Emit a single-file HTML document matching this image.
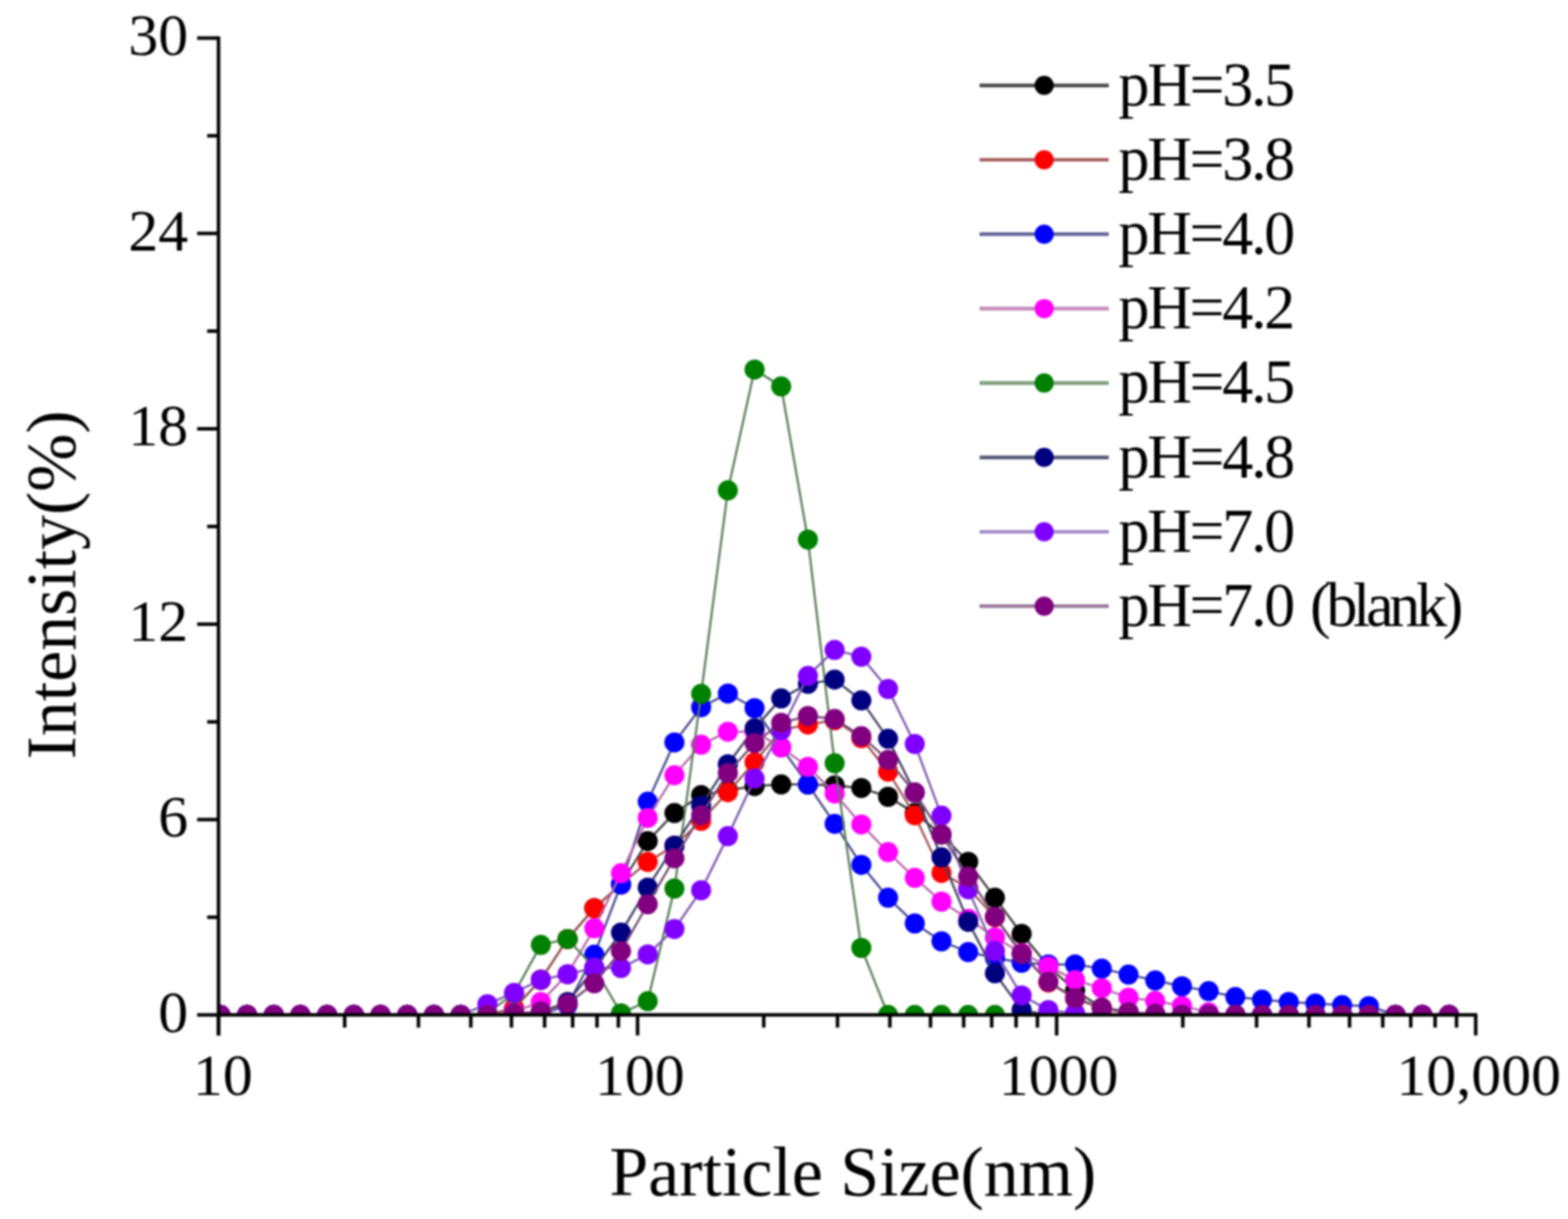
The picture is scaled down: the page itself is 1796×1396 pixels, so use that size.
<!DOCTYPE html><html><head><meta charset="utf-8"><style>html,body{margin:0;padding:0;background:#fff;}svg{display:block;filter:blur(0.9px);}text{font-family:"Liberation Serif",serif;fill:#000;}</style></head><body>
<svg width="1796" height="1396" viewBox="0 0 1796 1396">
<rect width="1796" height="1396" fill="#fff"/>
<defs><clipPath id="pc"><rect x="250.3" y="30" width="1440.0" height="1132.3"/></clipPath></defs>
<g clip-path="url(#pc)">
<path d="M252.4,1162.3 L283.0,1162.3 L313.6,1162.3 L344.1,1162.3 L374.7,1162.3 L405.3,1162.3 L435.9,1162.3 L466.5,1162.3 L497.1,1162.3 L527.7,1162.3 L558.3,1162.3 L588.9,1154.8 L619.5,1122.0 L650.1,1075.4 L680.7,1040.0 L711.3,1012.8 L741.9,963.2 L772.5,931.1 L803.1,910.6 L833.7,905.0 L864.3,900.2 L894.8,898.3 L925.4,898.3 L956.0,899.4 L986.6,902.4 L1017.2,912.5 L1047.8,931.1 L1078.4,955.7 L1109.0,987.0 L1139.6,1028.1 L1170.2,1069.4 L1200.8,1106.4 L1231.4,1134.3 L1262.0,1154.1 L1292.6,1158.6 L1323.2,1162.3 L1353.8,1162.3 L1384.4,1162.3 L1415.0,1162.3 L1445.5,1162.3 L1476.1,1162.3 L1506.7,1162.3 L1537.3,1162.3 L1567.9,1162.3 L1598.5,1162.3 L1629.1,1162.3 L1659.7,1162.3" fill="none" stroke="#404040" stroke-width="2.5"/>
<circle cx="252.4" cy="1162.3" r="11.5" fill="#000000"/>
<circle cx="283.0" cy="1162.3" r="11.5" fill="#000000"/>
<circle cx="313.6" cy="1162.3" r="11.5" fill="#000000"/>
<circle cx="344.1" cy="1162.3" r="11.5" fill="#000000"/>
<circle cx="374.7" cy="1162.3" r="11.5" fill="#000000"/>
<circle cx="405.3" cy="1162.3" r="11.5" fill="#000000"/>
<circle cx="435.9" cy="1162.3" r="11.5" fill="#000000"/>
<circle cx="466.5" cy="1162.3" r="11.5" fill="#000000"/>
<circle cx="497.1" cy="1162.3" r="11.5" fill="#000000"/>
<circle cx="527.7" cy="1162.3" r="11.5" fill="#000000"/>
<circle cx="558.3" cy="1162.3" r="11.5" fill="#000000"/>
<circle cx="588.9" cy="1154.8" r="11.5" fill="#000000"/>
<circle cx="619.5" cy="1122.0" r="11.5" fill="#000000"/>
<circle cx="650.1" cy="1075.4" r="11.5" fill="#000000"/>
<circle cx="680.7" cy="1040.0" r="11.5" fill="#000000"/>
<circle cx="711.3" cy="1012.8" r="11.5" fill="#000000"/>
<circle cx="741.9" cy="963.2" r="11.5" fill="#000000"/>
<circle cx="772.5" cy="931.1" r="11.5" fill="#000000"/>
<circle cx="803.1" cy="910.6" r="11.5" fill="#000000"/>
<circle cx="833.7" cy="905.0" r="11.5" fill="#000000"/>
<circle cx="864.3" cy="900.2" r="11.5" fill="#000000"/>
<circle cx="894.8" cy="898.3" r="11.5" fill="#000000"/>
<circle cx="925.4" cy="898.3" r="11.5" fill="#000000"/>
<circle cx="956.0" cy="899.4" r="11.5" fill="#000000"/>
<circle cx="986.6" cy="902.4" r="11.5" fill="#000000"/>
<circle cx="1017.2" cy="912.5" r="11.5" fill="#000000"/>
<circle cx="1047.8" cy="931.1" r="11.5" fill="#000000"/>
<circle cx="1078.4" cy="955.7" r="11.5" fill="#000000"/>
<circle cx="1109.0" cy="987.0" r="11.5" fill="#000000"/>
<circle cx="1139.6" cy="1028.1" r="11.5" fill="#000000"/>
<circle cx="1170.2" cy="1069.4" r="11.5" fill="#000000"/>
<circle cx="1200.8" cy="1106.4" r="11.5" fill="#000000"/>
<circle cx="1231.4" cy="1134.3" r="11.5" fill="#000000"/>
<circle cx="1262.0" cy="1154.1" r="11.5" fill="#000000"/>
<circle cx="1292.6" cy="1158.6" r="11.5" fill="#000000"/>
<circle cx="1323.2" cy="1162.3" r="11.5" fill="#000000"/>
<circle cx="1353.8" cy="1162.3" r="11.5" fill="#000000"/>
<circle cx="1384.4" cy="1162.3" r="11.5" fill="#000000"/>
<circle cx="1415.0" cy="1162.3" r="11.5" fill="#000000"/>
<circle cx="1445.5" cy="1162.3" r="11.5" fill="#000000"/>
<circle cx="1476.1" cy="1162.3" r="11.5" fill="#000000"/>
<circle cx="1506.7" cy="1162.3" r="11.5" fill="#000000"/>
<circle cx="1537.3" cy="1162.3" r="11.5" fill="#000000"/>
<circle cx="1567.9" cy="1162.3" r="11.5" fill="#000000"/>
<circle cx="1598.5" cy="1162.3" r="11.5" fill="#000000"/>
<circle cx="1629.1" cy="1162.3" r="11.5" fill="#000000"/>
<circle cx="1659.7" cy="1162.3" r="11.5" fill="#000000"/>
<path d="M252.4,1162.3 L283.0,1162.3 L313.6,1162.3 L344.1,1162.3 L374.7,1162.3 L405.3,1162.3 L435.9,1162.3 L466.5,1162.3 L497.1,1162.3 L527.7,1162.3 L558.3,1162.3 L588.9,1154.8 L619.5,1122.0 L650.1,1075.4 L680.7,1040.0 L711.3,1012.8 L741.9,987.0 L772.5,968.4 L803.1,940.1 L833.7,907.2 L864.3,872.9 L894.8,836.0 L925.4,829.7 L956.0,824.8 L986.6,845.3 L1017.2,883.7 L1047.8,933.7 L1078.4,999.7 L1109.0,1016.9 L1139.6,1050.4 L1170.2,1091.4 L1200.8,1125.0 L1231.4,1143.7 L1262.0,1154.8 L1292.6,1160.4 L1323.2,1162.3 L1353.8,1162.3 L1384.4,1162.3 L1415.0,1162.3 L1445.5,1162.3 L1476.1,1162.3 L1506.7,1162.3 L1537.3,1162.3 L1567.9,1162.3 L1598.5,1162.3 L1629.1,1162.3 L1659.7,1162.3" fill="none" stroke="#a05555" stroke-width="2.5"/>
<circle cx="252.4" cy="1162.3" r="11.5" fill="#ff0000"/>
<circle cx="283.0" cy="1162.3" r="11.5" fill="#ff0000"/>
<circle cx="313.6" cy="1162.3" r="11.5" fill="#ff0000"/>
<circle cx="344.1" cy="1162.3" r="11.5" fill="#ff0000"/>
<circle cx="374.7" cy="1162.3" r="11.5" fill="#ff0000"/>
<circle cx="405.3" cy="1162.3" r="11.5" fill="#ff0000"/>
<circle cx="435.9" cy="1162.3" r="11.5" fill="#ff0000"/>
<circle cx="466.5" cy="1162.3" r="11.5" fill="#ff0000"/>
<circle cx="497.1" cy="1162.3" r="11.5" fill="#ff0000"/>
<circle cx="527.7" cy="1162.3" r="11.5" fill="#ff0000"/>
<circle cx="558.3" cy="1162.3" r="11.5" fill="#ff0000"/>
<circle cx="588.9" cy="1154.8" r="11.5" fill="#ff0000"/>
<circle cx="619.5" cy="1122.0" r="11.5" fill="#ff0000"/>
<circle cx="650.1" cy="1075.4" r="11.5" fill="#ff0000"/>
<circle cx="680.7" cy="1040.0" r="11.5" fill="#ff0000"/>
<circle cx="711.3" cy="1012.8" r="11.5" fill="#ff0000"/>
<circle cx="741.9" cy="987.0" r="11.5" fill="#ff0000"/>
<circle cx="772.5" cy="968.4" r="11.5" fill="#ff0000"/>
<circle cx="803.1" cy="940.1" r="11.5" fill="#ff0000"/>
<circle cx="833.7" cy="907.2" r="11.5" fill="#ff0000"/>
<circle cx="864.3" cy="872.9" r="11.5" fill="#ff0000"/>
<circle cx="894.8" cy="836.0" r="11.5" fill="#ff0000"/>
<circle cx="925.4" cy="829.7" r="11.5" fill="#ff0000"/>
<circle cx="956.0" cy="824.8" r="11.5" fill="#ff0000"/>
<circle cx="986.6" cy="845.3" r="11.5" fill="#ff0000"/>
<circle cx="1017.2" cy="883.7" r="11.5" fill="#ff0000"/>
<circle cx="1047.8" cy="933.7" r="11.5" fill="#ff0000"/>
<circle cx="1078.4" cy="999.7" r="11.5" fill="#ff0000"/>
<circle cx="1109.0" cy="1016.9" r="11.5" fill="#ff0000"/>
<circle cx="1139.6" cy="1050.4" r="11.5" fill="#ff0000"/>
<circle cx="1170.2" cy="1091.4" r="11.5" fill="#ff0000"/>
<circle cx="1200.8" cy="1125.0" r="11.5" fill="#ff0000"/>
<circle cx="1231.4" cy="1143.7" r="11.5" fill="#ff0000"/>
<circle cx="1262.0" cy="1154.8" r="11.5" fill="#ff0000"/>
<circle cx="1292.6" cy="1160.4" r="11.5" fill="#ff0000"/>
<circle cx="1323.2" cy="1162.3" r="11.5" fill="#ff0000"/>
<circle cx="1353.8" cy="1162.3" r="11.5" fill="#ff0000"/>
<circle cx="1384.4" cy="1162.3" r="11.5" fill="#ff0000"/>
<circle cx="1415.0" cy="1162.3" r="11.5" fill="#ff0000"/>
<circle cx="1445.5" cy="1162.3" r="11.5" fill="#ff0000"/>
<circle cx="1476.1" cy="1162.3" r="11.5" fill="#ff0000"/>
<circle cx="1506.7" cy="1162.3" r="11.5" fill="#ff0000"/>
<circle cx="1537.3" cy="1162.3" r="11.5" fill="#ff0000"/>
<circle cx="1567.9" cy="1162.3" r="11.5" fill="#ff0000"/>
<circle cx="1598.5" cy="1162.3" r="11.5" fill="#ff0000"/>
<circle cx="1629.1" cy="1162.3" r="11.5" fill="#ff0000"/>
<circle cx="1659.7" cy="1162.3" r="11.5" fill="#ff0000"/>
<path d="M252.4,1162.3 L283.0,1162.3 L313.6,1162.3 L344.1,1162.3 L374.7,1162.3 L405.3,1162.3 L435.9,1162.3 L466.5,1162.3 L497.1,1162.3 L527.7,1162.3 L558.3,1162.3 L588.9,1162.3 L619.5,1162.3 L650.1,1151.1 L680.7,1093.3 L711.3,1012.8 L741.9,918.1 L772.5,850.2 L803.1,809.9 L833.7,794.2 L864.3,811.0 L894.8,855.8 L925.4,898.3 L956.0,943.4 L986.6,990.4 L1017.2,1028.1 L1047.8,1057.5 L1078.4,1078.0 L1109.0,1090.3 L1139.6,1097.0 L1170.2,1102.6 L1200.8,1104.5 L1231.4,1104.5 L1262.0,1109.3 L1292.6,1116.1 L1323.2,1122.8 L1353.8,1129.5 L1384.4,1135.1 L1415.0,1141.8 L1445.5,1144.8 L1476.1,1147.4 L1506.7,1149.2 L1537.3,1151.1 L1567.9,1152.2 L1598.5,1162.3 L1629.1,1162.3 L1659.7,1162.3" fill="none" stroke="#4a4a90" stroke-width="2.5"/>
<circle cx="252.4" cy="1162.3" r="11.5" fill="#0000ff"/>
<circle cx="283.0" cy="1162.3" r="11.5" fill="#0000ff"/>
<circle cx="313.6" cy="1162.3" r="11.5" fill="#0000ff"/>
<circle cx="344.1" cy="1162.3" r="11.5" fill="#0000ff"/>
<circle cx="374.7" cy="1162.3" r="11.5" fill="#0000ff"/>
<circle cx="405.3" cy="1162.3" r="11.5" fill="#0000ff"/>
<circle cx="435.9" cy="1162.3" r="11.5" fill="#0000ff"/>
<circle cx="466.5" cy="1162.3" r="11.5" fill="#0000ff"/>
<circle cx="497.1" cy="1162.3" r="11.5" fill="#0000ff"/>
<circle cx="527.7" cy="1162.3" r="11.5" fill="#0000ff"/>
<circle cx="558.3" cy="1162.3" r="11.5" fill="#0000ff"/>
<circle cx="588.9" cy="1162.3" r="11.5" fill="#0000ff"/>
<circle cx="619.5" cy="1162.3" r="11.5" fill="#0000ff"/>
<circle cx="650.1" cy="1151.1" r="11.5" fill="#0000ff"/>
<circle cx="680.7" cy="1093.3" r="11.5" fill="#0000ff"/>
<circle cx="711.3" cy="1012.8" r="11.5" fill="#0000ff"/>
<circle cx="741.9" cy="918.1" r="11.5" fill="#0000ff"/>
<circle cx="772.5" cy="850.2" r="11.5" fill="#0000ff"/>
<circle cx="803.1" cy="809.9" r="11.5" fill="#0000ff"/>
<circle cx="833.7" cy="794.2" r="11.5" fill="#0000ff"/>
<circle cx="864.3" cy="811.0" r="11.5" fill="#0000ff"/>
<circle cx="894.8" cy="855.8" r="11.5" fill="#0000ff"/>
<circle cx="925.4" cy="898.3" r="11.5" fill="#0000ff"/>
<circle cx="956.0" cy="943.4" r="11.5" fill="#0000ff"/>
<circle cx="986.6" cy="990.4" r="11.5" fill="#0000ff"/>
<circle cx="1017.2" cy="1028.1" r="11.5" fill="#0000ff"/>
<circle cx="1047.8" cy="1057.5" r="11.5" fill="#0000ff"/>
<circle cx="1078.4" cy="1078.0" r="11.5" fill="#0000ff"/>
<circle cx="1109.0" cy="1090.3" r="11.5" fill="#0000ff"/>
<circle cx="1139.6" cy="1097.0" r="11.5" fill="#0000ff"/>
<circle cx="1170.2" cy="1102.6" r="11.5" fill="#0000ff"/>
<circle cx="1200.8" cy="1104.5" r="11.5" fill="#0000ff"/>
<circle cx="1231.4" cy="1104.5" r="11.5" fill="#0000ff"/>
<circle cx="1262.0" cy="1109.3" r="11.5" fill="#0000ff"/>
<circle cx="1292.6" cy="1116.1" r="11.5" fill="#0000ff"/>
<circle cx="1323.2" cy="1122.8" r="11.5" fill="#0000ff"/>
<circle cx="1353.8" cy="1129.5" r="11.5" fill="#0000ff"/>
<circle cx="1384.4" cy="1135.1" r="11.5" fill="#0000ff"/>
<circle cx="1415.0" cy="1141.8" r="11.5" fill="#0000ff"/>
<circle cx="1445.5" cy="1144.8" r="11.5" fill="#0000ff"/>
<circle cx="1476.1" cy="1147.4" r="11.5" fill="#0000ff"/>
<circle cx="1506.7" cy="1149.2" r="11.5" fill="#0000ff"/>
<circle cx="1537.3" cy="1151.1" r="11.5" fill="#0000ff"/>
<circle cx="1567.9" cy="1152.2" r="11.5" fill="#0000ff"/>
<circle cx="1598.5" cy="1162.3" r="11.5" fill="#0000ff"/>
<circle cx="1629.1" cy="1162.3" r="11.5" fill="#0000ff"/>
<circle cx="1659.7" cy="1162.3" r="11.5" fill="#0000ff"/>
<path d="M252.4,1162.3 L283.0,1162.3 L313.6,1162.3 L344.1,1162.3 L374.7,1162.3 L405.3,1162.3 L435.9,1162.3 L466.5,1162.3 L497.1,1162.3 L527.7,1162.3 L558.3,1162.3 L588.9,1158.6 L619.5,1147.4 L650.1,1115.7 L680.7,1063.1 L711.3,1000.1 L741.9,936.7 L772.5,887.8 L803.1,852.8 L833.7,837.9 L864.3,837.9 L894.8,855.8 L925.4,878.2 L956.0,908.7 L986.6,944.2 L1017.2,975.8 L1047.8,1005.3 L1078.4,1032.5 L1109.0,1052.3 L1139.6,1073.5 L1170.2,1091.4 L1200.8,1106.7 L1231.4,1122.4 L1262.0,1131.7 L1292.6,1142.5 L1323.2,1146.3 L1353.8,1151.9 L1384.4,1159.3 L1415.0,1162.3 L1445.5,1162.3 L1476.1,1162.3 L1506.7,1162.3 L1537.3,1162.3 L1567.9,1162.3 L1598.5,1162.3 L1629.1,1162.3 L1659.7,1162.3" fill="none" stroke="#b868aa" stroke-width="2.5"/>
<circle cx="252.4" cy="1162.3" r="11.5" fill="#ff00ff"/>
<circle cx="283.0" cy="1162.3" r="11.5" fill="#ff00ff"/>
<circle cx="313.6" cy="1162.3" r="11.5" fill="#ff00ff"/>
<circle cx="344.1" cy="1162.3" r="11.5" fill="#ff00ff"/>
<circle cx="374.7" cy="1162.3" r="11.5" fill="#ff00ff"/>
<circle cx="405.3" cy="1162.3" r="11.5" fill="#ff00ff"/>
<circle cx="435.9" cy="1162.3" r="11.5" fill="#ff00ff"/>
<circle cx="466.5" cy="1162.3" r="11.5" fill="#ff00ff"/>
<circle cx="497.1" cy="1162.3" r="11.5" fill="#ff00ff"/>
<circle cx="527.7" cy="1162.3" r="11.5" fill="#ff00ff"/>
<circle cx="558.3" cy="1162.3" r="11.5" fill="#ff00ff"/>
<circle cx="588.9" cy="1158.6" r="11.5" fill="#ff00ff"/>
<circle cx="619.5" cy="1147.4" r="11.5" fill="#ff00ff"/>
<circle cx="650.1" cy="1115.7" r="11.5" fill="#ff00ff"/>
<circle cx="680.7" cy="1063.1" r="11.5" fill="#ff00ff"/>
<circle cx="711.3" cy="1000.1" r="11.5" fill="#ff00ff"/>
<circle cx="741.9" cy="936.7" r="11.5" fill="#ff00ff"/>
<circle cx="772.5" cy="887.8" r="11.5" fill="#ff00ff"/>
<circle cx="803.1" cy="852.8" r="11.5" fill="#ff00ff"/>
<circle cx="833.7" cy="837.9" r="11.5" fill="#ff00ff"/>
<circle cx="864.3" cy="837.9" r="11.5" fill="#ff00ff"/>
<circle cx="894.8" cy="855.8" r="11.5" fill="#ff00ff"/>
<circle cx="925.4" cy="878.2" r="11.5" fill="#ff00ff"/>
<circle cx="956.0" cy="908.7" r="11.5" fill="#ff00ff"/>
<circle cx="986.6" cy="944.2" r="11.5" fill="#ff00ff"/>
<circle cx="1017.2" cy="975.8" r="11.5" fill="#ff00ff"/>
<circle cx="1047.8" cy="1005.3" r="11.5" fill="#ff00ff"/>
<circle cx="1078.4" cy="1032.5" r="11.5" fill="#ff00ff"/>
<circle cx="1109.0" cy="1052.3" r="11.5" fill="#ff00ff"/>
<circle cx="1139.6" cy="1073.5" r="11.5" fill="#ff00ff"/>
<circle cx="1170.2" cy="1091.4" r="11.5" fill="#ff00ff"/>
<circle cx="1200.8" cy="1106.7" r="11.5" fill="#ff00ff"/>
<circle cx="1231.4" cy="1122.4" r="11.5" fill="#ff00ff"/>
<circle cx="1262.0" cy="1131.7" r="11.5" fill="#ff00ff"/>
<circle cx="1292.6" cy="1142.5" r="11.5" fill="#ff00ff"/>
<circle cx="1323.2" cy="1146.3" r="11.5" fill="#ff00ff"/>
<circle cx="1353.8" cy="1151.9" r="11.5" fill="#ff00ff"/>
<circle cx="1384.4" cy="1159.3" r="11.5" fill="#ff00ff"/>
<circle cx="1415.0" cy="1162.3" r="11.5" fill="#ff00ff"/>
<circle cx="1445.5" cy="1162.3" r="11.5" fill="#ff00ff"/>
<circle cx="1476.1" cy="1162.3" r="11.5" fill="#ff00ff"/>
<circle cx="1506.7" cy="1162.3" r="11.5" fill="#ff00ff"/>
<circle cx="1537.3" cy="1162.3" r="11.5" fill="#ff00ff"/>
<circle cx="1567.9" cy="1162.3" r="11.5" fill="#ff00ff"/>
<circle cx="1598.5" cy="1162.3" r="11.5" fill="#ff00ff"/>
<circle cx="1629.1" cy="1162.3" r="11.5" fill="#ff00ff"/>
<circle cx="1659.7" cy="1162.3" r="11.5" fill="#ff00ff"/>
<path d="M252.4,1162.3 L283.0,1162.3 L313.6,1162.3 L344.1,1162.3 L374.7,1162.3 L405.3,1162.3 L435.9,1162.3 L466.5,1162.3 L497.1,1162.3 L527.7,1162.3 L558.3,1160.4 L588.9,1137.7 L619.5,1082.1 L650.1,1075.4 L680.7,1108.2 L711.3,1160.4 L741.9,1146.6 L772.5,1017.6 L803.1,794.6 L833.7,561.6 L864.3,423.2 L894.8,442.6 L925.4,617.9 L956.0,874.0 L986.6,1085.5 L1017.2,1162.3 L1047.8,1162.3 L1078.4,1162.3 L1109.0,1162.3 L1139.6,1162.3 L1170.2,1162.3 L1200.8,1162.3 L1231.4,1162.3 L1262.0,1162.3 L1292.6,1162.3 L1323.2,1162.3 L1353.8,1162.3 L1384.4,1162.3 L1415.0,1162.3 L1445.5,1162.3 L1476.1,1162.3 L1506.7,1162.3 L1537.3,1162.3 L1567.9,1162.3 L1598.5,1162.3 L1629.1,1162.3 L1659.7,1162.3" fill="none" stroke="#5a7d5a" stroke-width="2.5"/>
<circle cx="252.4" cy="1162.3" r="11.5" fill="#008000"/>
<circle cx="283.0" cy="1162.3" r="11.5" fill="#008000"/>
<circle cx="313.6" cy="1162.3" r="11.5" fill="#008000"/>
<circle cx="344.1" cy="1162.3" r="11.5" fill="#008000"/>
<circle cx="374.7" cy="1162.3" r="11.5" fill="#008000"/>
<circle cx="405.3" cy="1162.3" r="11.5" fill="#008000"/>
<circle cx="435.9" cy="1162.3" r="11.5" fill="#008000"/>
<circle cx="466.5" cy="1162.3" r="11.5" fill="#008000"/>
<circle cx="497.1" cy="1162.3" r="11.5" fill="#008000"/>
<circle cx="527.7" cy="1162.3" r="11.5" fill="#008000"/>
<circle cx="558.3" cy="1160.4" r="11.5" fill="#008000"/>
<circle cx="588.9" cy="1137.7" r="11.5" fill="#008000"/>
<circle cx="619.5" cy="1082.1" r="11.5" fill="#008000"/>
<circle cx="650.1" cy="1075.4" r="11.5" fill="#008000"/>
<circle cx="680.7" cy="1108.2" r="11.5" fill="#008000"/>
<circle cx="711.3" cy="1160.4" r="11.5" fill="#008000"/>
<circle cx="741.9" cy="1146.6" r="11.5" fill="#008000"/>
<circle cx="772.5" cy="1017.6" r="11.5" fill="#008000"/>
<circle cx="803.1" cy="794.6" r="11.5" fill="#008000"/>
<circle cx="833.7" cy="561.6" r="11.5" fill="#008000"/>
<circle cx="864.3" cy="423.2" r="11.5" fill="#008000"/>
<circle cx="894.8" cy="442.6" r="11.5" fill="#008000"/>
<circle cx="925.4" cy="617.9" r="11.5" fill="#008000"/>
<circle cx="956.0" cy="874.0" r="11.5" fill="#008000"/>
<circle cx="986.6" cy="1085.5" r="11.5" fill="#008000"/>
<circle cx="1017.2" cy="1162.3" r="11.5" fill="#008000"/>
<circle cx="1047.8" cy="1162.3" r="11.5" fill="#008000"/>
<circle cx="1078.4" cy="1162.3" r="11.5" fill="#008000"/>
<circle cx="1109.0" cy="1162.3" r="11.5" fill="#008000"/>
<circle cx="1139.6" cy="1162.3" r="11.5" fill="#008000"/>
<circle cx="1170.2" cy="1162.3" r="11.5" fill="#008000"/>
<circle cx="1200.8" cy="1162.3" r="11.5" fill="#008000"/>
<circle cx="1231.4" cy="1162.3" r="11.5" fill="#008000"/>
<circle cx="1262.0" cy="1162.3" r="11.5" fill="#008000"/>
<circle cx="1292.6" cy="1162.3" r="11.5" fill="#008000"/>
<circle cx="1323.2" cy="1162.3" r="11.5" fill="#008000"/>
<circle cx="1353.8" cy="1162.3" r="11.5" fill="#008000"/>
<circle cx="1384.4" cy="1162.3" r="11.5" fill="#008000"/>
<circle cx="1415.0" cy="1162.3" r="11.5" fill="#008000"/>
<circle cx="1445.5" cy="1162.3" r="11.5" fill="#008000"/>
<circle cx="1476.1" cy="1162.3" r="11.5" fill="#008000"/>
<circle cx="1506.7" cy="1162.3" r="11.5" fill="#008000"/>
<circle cx="1537.3" cy="1162.3" r="11.5" fill="#008000"/>
<circle cx="1567.9" cy="1162.3" r="11.5" fill="#008000"/>
<circle cx="1598.5" cy="1162.3" r="11.5" fill="#008000"/>
<circle cx="1629.1" cy="1162.3" r="11.5" fill="#008000"/>
<circle cx="1659.7" cy="1162.3" r="11.5" fill="#008000"/>
<path d="M252.4,1162.3 L283.0,1162.3 L313.6,1162.3 L344.1,1162.3 L374.7,1162.3 L405.3,1162.3 L435.9,1162.3 L466.5,1162.3 L497.1,1162.3 L527.7,1162.3 L558.3,1162.3 L588.9,1162.3 L619.5,1158.6 L650.1,1147.4 L680.7,1110.1 L711.3,1068.0 L741.9,1016.5 L772.5,968.4 L803.1,922.5 L833.7,875.2 L864.3,834.1 L894.8,799.8 L925.4,783.1 L956.0,778.2 L986.6,802.1 L1017.2,846.1 L1047.8,907.6 L1078.4,981.8 L1109.0,1055.7 L1139.6,1114.6 L1170.2,1156.7 L1200.8,1162.3 L1231.4,1162.3 L1262.0,1162.3 L1292.6,1162.3 L1323.2,1162.3 L1353.8,1162.3 L1384.4,1162.3 L1415.0,1162.3 L1445.5,1162.3 L1476.1,1162.3 L1506.7,1162.3 L1537.3,1162.3 L1567.9,1162.3 L1598.5,1162.3 L1629.1,1162.3 L1659.7,1162.3" fill="none" stroke="#404064" stroke-width="2.5"/>
<circle cx="252.4" cy="1162.3" r="11.5" fill="#000080"/>
<circle cx="283.0" cy="1162.3" r="11.5" fill="#000080"/>
<circle cx="313.6" cy="1162.3" r="11.5" fill="#000080"/>
<circle cx="344.1" cy="1162.3" r="11.5" fill="#000080"/>
<circle cx="374.7" cy="1162.3" r="11.5" fill="#000080"/>
<circle cx="405.3" cy="1162.3" r="11.5" fill="#000080"/>
<circle cx="435.9" cy="1162.3" r="11.5" fill="#000080"/>
<circle cx="466.5" cy="1162.3" r="11.5" fill="#000080"/>
<circle cx="497.1" cy="1162.3" r="11.5" fill="#000080"/>
<circle cx="527.7" cy="1162.3" r="11.5" fill="#000080"/>
<circle cx="558.3" cy="1162.3" r="11.5" fill="#000080"/>
<circle cx="588.9" cy="1162.3" r="11.5" fill="#000080"/>
<circle cx="619.5" cy="1158.6" r="11.5" fill="#000080"/>
<circle cx="650.1" cy="1147.4" r="11.5" fill="#000080"/>
<circle cx="680.7" cy="1110.1" r="11.5" fill="#000080"/>
<circle cx="711.3" cy="1068.0" r="11.5" fill="#000080"/>
<circle cx="741.9" cy="1016.5" r="11.5" fill="#000080"/>
<circle cx="772.5" cy="968.4" r="11.5" fill="#000080"/>
<circle cx="803.1" cy="922.5" r="11.5" fill="#000080"/>
<circle cx="833.7" cy="875.2" r="11.5" fill="#000080"/>
<circle cx="864.3" cy="834.1" r="11.5" fill="#000080"/>
<circle cx="894.8" cy="799.8" r="11.5" fill="#000080"/>
<circle cx="925.4" cy="783.1" r="11.5" fill="#000080"/>
<circle cx="956.0" cy="778.2" r="11.5" fill="#000080"/>
<circle cx="986.6" cy="802.1" r="11.5" fill="#000080"/>
<circle cx="1017.2" cy="846.1" r="11.5" fill="#000080"/>
<circle cx="1047.8" cy="907.6" r="11.5" fill="#000080"/>
<circle cx="1078.4" cy="981.8" r="11.5" fill="#000080"/>
<circle cx="1109.0" cy="1055.7" r="11.5" fill="#000080"/>
<circle cx="1139.6" cy="1114.6" r="11.5" fill="#000080"/>
<circle cx="1170.2" cy="1156.7" r="11.5" fill="#000080"/>
<circle cx="1200.8" cy="1162.3" r="11.5" fill="#000080"/>
<circle cx="1231.4" cy="1162.3" r="11.5" fill="#000080"/>
<circle cx="1262.0" cy="1162.3" r="11.5" fill="#000080"/>
<circle cx="1292.6" cy="1162.3" r="11.5" fill="#000080"/>
<circle cx="1323.2" cy="1162.3" r="11.5" fill="#000080"/>
<circle cx="1353.8" cy="1162.3" r="11.5" fill="#000080"/>
<circle cx="1384.4" cy="1162.3" r="11.5" fill="#000080"/>
<circle cx="1415.0" cy="1162.3" r="11.5" fill="#000080"/>
<circle cx="1445.5" cy="1162.3" r="11.5" fill="#000080"/>
<circle cx="1476.1" cy="1162.3" r="11.5" fill="#000080"/>
<circle cx="1506.7" cy="1162.3" r="11.5" fill="#000080"/>
<circle cx="1537.3" cy="1162.3" r="11.5" fill="#000080"/>
<circle cx="1567.9" cy="1162.3" r="11.5" fill="#000080"/>
<circle cx="1598.5" cy="1162.3" r="11.5" fill="#000080"/>
<circle cx="1629.1" cy="1162.3" r="11.5" fill="#000080"/>
<circle cx="1659.7" cy="1162.3" r="11.5" fill="#000080"/>
<path d="M252.4,1162.3 L283.0,1162.3 L313.6,1162.3 L344.1,1162.3 L374.7,1162.3 L405.3,1162.3 L435.9,1162.3 L466.5,1162.3 L497.1,1162.3 L527.7,1162.3 L558.3,1150.0 L588.9,1136.9 L619.5,1122.0 L650.1,1115.7 L680.7,1108.2 L711.3,1108.6 L741.9,1092.9 L772.5,1063.9 L803.1,1019.5 L833.7,957.6 L864.3,891.6 L894.8,836.0 L925.4,774.1 L956.0,744.3 L986.6,752.1 L1017.2,789.0 L1047.8,852.0 L1078.4,934.1 L1109.0,1018.4 L1139.6,1089.2 L1170.2,1139.9 L1200.8,1156.7 L1231.4,1160.4 L1262.0,1162.3 L1292.6,1162.3 L1323.2,1162.3 L1353.8,1162.3 L1384.4,1162.3 L1415.0,1162.3 L1445.5,1162.3 L1476.1,1162.3 L1506.7,1162.3 L1537.3,1162.3 L1567.9,1162.3 L1598.5,1162.3 L1629.1,1162.3 L1659.7,1162.3" fill="none" stroke="#7d5ab0" stroke-width="2.5"/>
<circle cx="252.4" cy="1162.3" r="11.5" fill="#8000ff"/>
<circle cx="283.0" cy="1162.3" r="11.5" fill="#8000ff"/>
<circle cx="313.6" cy="1162.3" r="11.5" fill="#8000ff"/>
<circle cx="344.1" cy="1162.3" r="11.5" fill="#8000ff"/>
<circle cx="374.7" cy="1162.3" r="11.5" fill="#8000ff"/>
<circle cx="405.3" cy="1162.3" r="11.5" fill="#8000ff"/>
<circle cx="435.9" cy="1162.3" r="11.5" fill="#8000ff"/>
<circle cx="466.5" cy="1162.3" r="11.5" fill="#8000ff"/>
<circle cx="497.1" cy="1162.3" r="11.5" fill="#8000ff"/>
<circle cx="527.7" cy="1162.3" r="11.5" fill="#8000ff"/>
<circle cx="558.3" cy="1150.0" r="11.5" fill="#8000ff"/>
<circle cx="588.9" cy="1136.9" r="11.5" fill="#8000ff"/>
<circle cx="619.5" cy="1122.0" r="11.5" fill="#8000ff"/>
<circle cx="650.1" cy="1115.7" r="11.5" fill="#8000ff"/>
<circle cx="680.7" cy="1108.2" r="11.5" fill="#8000ff"/>
<circle cx="711.3" cy="1108.6" r="11.5" fill="#8000ff"/>
<circle cx="741.9" cy="1092.9" r="11.5" fill="#8000ff"/>
<circle cx="772.5" cy="1063.9" r="11.5" fill="#8000ff"/>
<circle cx="803.1" cy="1019.5" r="11.5" fill="#8000ff"/>
<circle cx="833.7" cy="957.6" r="11.5" fill="#8000ff"/>
<circle cx="864.3" cy="891.6" r="11.5" fill="#8000ff"/>
<circle cx="894.8" cy="836.0" r="11.5" fill="#8000ff"/>
<circle cx="925.4" cy="774.1" r="11.5" fill="#8000ff"/>
<circle cx="956.0" cy="744.3" r="11.5" fill="#8000ff"/>
<circle cx="986.6" cy="752.1" r="11.5" fill="#8000ff"/>
<circle cx="1017.2" cy="789.0" r="11.5" fill="#8000ff"/>
<circle cx="1047.8" cy="852.0" r="11.5" fill="#8000ff"/>
<circle cx="1078.4" cy="934.1" r="11.5" fill="#8000ff"/>
<circle cx="1109.0" cy="1018.4" r="11.5" fill="#8000ff"/>
<circle cx="1139.6" cy="1089.2" r="11.5" fill="#8000ff"/>
<circle cx="1170.2" cy="1139.9" r="11.5" fill="#8000ff"/>
<circle cx="1200.8" cy="1156.7" r="11.5" fill="#8000ff"/>
<circle cx="1231.4" cy="1160.4" r="11.5" fill="#8000ff"/>
<circle cx="1262.0" cy="1162.3" r="11.5" fill="#8000ff"/>
<circle cx="1292.6" cy="1162.3" r="11.5" fill="#8000ff"/>
<circle cx="1323.2" cy="1162.3" r="11.5" fill="#8000ff"/>
<circle cx="1353.8" cy="1162.3" r="11.5" fill="#8000ff"/>
<circle cx="1384.4" cy="1162.3" r="11.5" fill="#8000ff"/>
<circle cx="1415.0" cy="1162.3" r="11.5" fill="#8000ff"/>
<circle cx="1445.5" cy="1162.3" r="11.5" fill="#8000ff"/>
<circle cx="1476.1" cy="1162.3" r="11.5" fill="#8000ff"/>
<circle cx="1506.7" cy="1162.3" r="11.5" fill="#8000ff"/>
<circle cx="1537.3" cy="1162.3" r="11.5" fill="#8000ff"/>
<circle cx="1567.9" cy="1162.3" r="11.5" fill="#8000ff"/>
<circle cx="1598.5" cy="1162.3" r="11.5" fill="#8000ff"/>
<circle cx="1629.1" cy="1162.3" r="11.5" fill="#8000ff"/>
<circle cx="1659.7" cy="1162.3" r="11.5" fill="#8000ff"/>
<path d="M252.4,1162.3 L283.0,1162.3 L313.6,1162.3 L344.1,1162.3 L374.7,1162.3 L405.3,1162.3 L435.9,1162.3 L466.5,1162.3 L497.1,1162.3 L527.7,1162.3 L558.3,1162.3 L588.9,1160.4 L619.5,1158.6 L650.1,1149.6 L680.7,1126.1 L711.3,1089.2 L741.9,1035.5 L772.5,982.9 L803.1,933.7 L833.7,885.2 L864.3,850.9 L894.8,827.8 L925.4,820.0 L956.0,823.3 L986.6,843.1 L1017.2,870.3 L1047.8,907.6 L1078.4,955.7 L1109.0,1003.8 L1139.6,1049.7 L1170.2,1092.6 L1200.8,1124.3 L1231.4,1142.9 L1262.0,1154.1 L1292.6,1159.3 L1323.2,1160.8 L1353.8,1162.3 L1384.4,1162.3 L1415.0,1162.3 L1445.5,1162.3 L1476.1,1162.3 L1506.7,1162.3 L1537.3,1162.3 L1567.9,1162.3 L1598.5,1162.3 L1629.1,1162.3 L1659.7,1162.3" fill="none" stroke="#744a74" stroke-width="2.5"/>
<circle cx="252.4" cy="1162.3" r="11.5" fill="#800080"/>
<circle cx="283.0" cy="1162.3" r="11.5" fill="#800080"/>
<circle cx="313.6" cy="1162.3" r="11.5" fill="#800080"/>
<circle cx="344.1" cy="1162.3" r="11.5" fill="#800080"/>
<circle cx="374.7" cy="1162.3" r="11.5" fill="#800080"/>
<circle cx="405.3" cy="1162.3" r="11.5" fill="#800080"/>
<circle cx="435.9" cy="1162.3" r="11.5" fill="#800080"/>
<circle cx="466.5" cy="1162.3" r="11.5" fill="#800080"/>
<circle cx="497.1" cy="1162.3" r="11.5" fill="#800080"/>
<circle cx="527.7" cy="1162.3" r="11.5" fill="#800080"/>
<circle cx="558.3" cy="1162.3" r="11.5" fill="#800080"/>
<circle cx="588.9" cy="1160.4" r="11.5" fill="#800080"/>
<circle cx="619.5" cy="1158.6" r="11.5" fill="#800080"/>
<circle cx="650.1" cy="1149.6" r="11.5" fill="#800080"/>
<circle cx="680.7" cy="1126.1" r="11.5" fill="#800080"/>
<circle cx="711.3" cy="1089.2" r="11.5" fill="#800080"/>
<circle cx="741.9" cy="1035.5" r="11.5" fill="#800080"/>
<circle cx="772.5" cy="982.9" r="11.5" fill="#800080"/>
<circle cx="803.1" cy="933.7" r="11.5" fill="#800080"/>
<circle cx="833.7" cy="885.2" r="11.5" fill="#800080"/>
<circle cx="864.3" cy="850.9" r="11.5" fill="#800080"/>
<circle cx="894.8" cy="827.8" r="11.5" fill="#800080"/>
<circle cx="925.4" cy="820.0" r="11.5" fill="#800080"/>
<circle cx="956.0" cy="823.3" r="11.5" fill="#800080"/>
<circle cx="986.6" cy="843.1" r="11.5" fill="#800080"/>
<circle cx="1017.2" cy="870.3" r="11.5" fill="#800080"/>
<circle cx="1047.8" cy="907.6" r="11.5" fill="#800080"/>
<circle cx="1078.4" cy="955.7" r="11.5" fill="#800080"/>
<circle cx="1109.0" cy="1003.8" r="11.5" fill="#800080"/>
<circle cx="1139.6" cy="1049.7" r="11.5" fill="#800080"/>
<circle cx="1170.2" cy="1092.6" r="11.5" fill="#800080"/>
<circle cx="1200.8" cy="1124.3" r="11.5" fill="#800080"/>
<circle cx="1231.4" cy="1142.9" r="11.5" fill="#800080"/>
<circle cx="1262.0" cy="1154.1" r="11.5" fill="#800080"/>
<circle cx="1292.6" cy="1159.3" r="11.5" fill="#800080"/>
<circle cx="1323.2" cy="1160.8" r="11.5" fill="#800080"/>
<circle cx="1353.8" cy="1162.3" r="11.5" fill="#800080"/>
<circle cx="1384.4" cy="1162.3" r="11.5" fill="#800080"/>
<circle cx="1415.0" cy="1162.3" r="11.5" fill="#800080"/>
<circle cx="1445.5" cy="1162.3" r="11.5" fill="#800080"/>
<circle cx="1476.1" cy="1162.3" r="11.5" fill="#800080"/>
<circle cx="1506.7" cy="1162.3" r="11.5" fill="#800080"/>
<circle cx="1537.3" cy="1162.3" r="11.5" fill="#800080"/>
<circle cx="1567.9" cy="1162.3" r="11.5" fill="#800080"/>
<circle cx="1598.5" cy="1162.3" r="11.5" fill="#800080"/>
<circle cx="1629.1" cy="1162.3" r="11.5" fill="#800080"/>
<circle cx="1659.7" cy="1162.3" r="11.5" fill="#800080"/>
</g>
<g stroke="#000" stroke-width="4" fill="none">
<path d="M250.3,41.79999999999991 V1185.8"/>
<path d="M248.5,1162.3 H1692.1"/>
<path d="M225.8,1162.3 H250.3"/>
<path d="M225.8,938.6 H250.3"/>
<path d="M225.8,714.8 H250.3"/>
<path d="M225.8,491.1 H250.3"/>
<path d="M225.8,267.3 H250.3"/>
<path d="M225.8,43.6 H250.3"/>
<path d="M237.3,1050.4 H250.3"/>
<path d="M237.3,826.7 H250.3"/>
<path d="M237.3,602.9 H250.3"/>
<path d="M237.3,379.2 H250.3"/>
<path d="M237.3,155.5 H250.3"/>
<path d="M250.3,1162.3 V1185.8"/>
<path d="M394.8,1162.3 V1176.8"/>
<path d="M479.3,1162.3 V1176.8"/>
<path d="M539.3,1162.3 V1176.8"/>
<path d="M585.8,1162.3 V1176.8"/>
<path d="M623.8,1162.3 V1176.8"/>
<path d="M655.9,1162.3 V1176.8"/>
<path d="M683.8,1162.3 V1176.8"/>
<path d="M708.3,1162.3 V1176.8"/>
<path d="M730.3,1162.3 V1185.8"/>
<path d="M874.8,1162.3 V1176.8"/>
<path d="M959.3,1162.3 V1176.8"/>
<path d="M1019.3,1162.3 V1176.8"/>
<path d="M1065.8,1162.3 V1176.8"/>
<path d="M1103.8,1162.3 V1176.8"/>
<path d="M1135.9,1162.3 V1176.8"/>
<path d="M1163.8,1162.3 V1176.8"/>
<path d="M1188.3,1162.3 V1176.8"/>
<path d="M1210.3,1162.3 V1185.8"/>
<path d="M1354.8,1162.3 V1176.8"/>
<path d="M1439.3,1162.3 V1176.8"/>
<path d="M1499.3,1162.3 V1176.8"/>
<path d="M1545.8,1162.3 V1176.8"/>
<path d="M1583.8,1162.3 V1176.8"/>
<path d="M1615.9,1162.3 V1176.8"/>
<path d="M1643.8,1162.3 V1176.8"/>
<path d="M1668.3,1162.3 V1176.8"/>
<path d="M1690.3,1162.3 V1185.8"/>
</g>
<g font-size="68.5" text-anchor="end">
<text x="215.5" y="1181.6">0</text>
<text x="215.5" y="957.9">6</text>
<text x="215.5" y="734.1">12</text>
<text x="215.5" y="510.4">18</text>
<text x="215.5" y="286.6">24</text>
<text x="215.5" y="62.9">30</text>
</g>
<g font-size="68.5" text-anchor="middle">
<text x="255.3" y="1253.5">10</text>
<text x="732.8" y="1253.5">100</text>
<text x="1212.6" y="1253.5">1000</text>
<text x="1693.8" y="1253.5">10,000</text>
</g>
<text font-size="80" x="976.9" y="1369" text-anchor="middle">Particle Size(nm)</text>
<text font-size="80" transform="translate(85.5,669.8) rotate(-90)" text-anchor="middle">Intensity(%)</text>
<path d="M1122,97.8 H1270" stroke="#4a4a4a" stroke-width="4.2"/>
<circle cx="1196" cy="97.8" r="11" fill="#000000"/>
<text font-size="71" x="1281" y="120.6" letter-spacing="-2.6">pH=3.5</text>
<path d="M1122,183.0 H1270" stroke="#a86060" stroke-width="4.2"/>
<circle cx="1196" cy="183.0" r="11" fill="#ff0000"/>
<text font-size="71" x="1281" y="205.8" letter-spacing="-2.6">pH=3.8</text>
<path d="M1122,268.2 H1270" stroke="#64649a" stroke-width="4.2"/>
<circle cx="1196" cy="268.2" r="11" fill="#0000ff"/>
<text font-size="71" x="1281" y="291.0" letter-spacing="-2.6">pH=4.0</text>
<path d="M1122,353.4 H1270" stroke="#c08ab8" stroke-width="4.2"/>
<circle cx="1196" cy="353.4" r="11" fill="#ff00ff"/>
<text font-size="71" x="1281" y="376.2" letter-spacing="-2.6">pH=4.2</text>
<path d="M1122,438.6 H1270" stroke="#7a9a7a" stroke-width="4.2"/>
<circle cx="1196" cy="438.6" r="11" fill="#008000"/>
<text font-size="71" x="1281" y="461.4" letter-spacing="-2.6">pH=4.5</text>
<path d="M1122,523.8 H1270" stroke="#56567a" stroke-width="4.2"/>
<circle cx="1196" cy="523.8" r="11" fill="#000080"/>
<text font-size="71" x="1281" y="546.6" letter-spacing="-2.6">pH=4.8</text>
<path d="M1122,609.0 H1270" stroke="#a08ac8" stroke-width="4.2"/>
<circle cx="1196" cy="609.0" r="11" fill="#8000ff"/>
<text font-size="71" x="1281" y="631.8" letter-spacing="-2.6">pH=7.0</text>
<path d="M1122,694.2 H1270" stroke="#9a7a9a" stroke-width="4.2"/>
<circle cx="1196" cy="694.2" r="11" fill="#800080"/>
<text font-size="71" x="1281" y="717.0" letter-spacing="-2.6">pH=7.0<tspan x="1500.5" letter-spacing="-4.9">(blank)</tspan></text>
</svg></body></html>
